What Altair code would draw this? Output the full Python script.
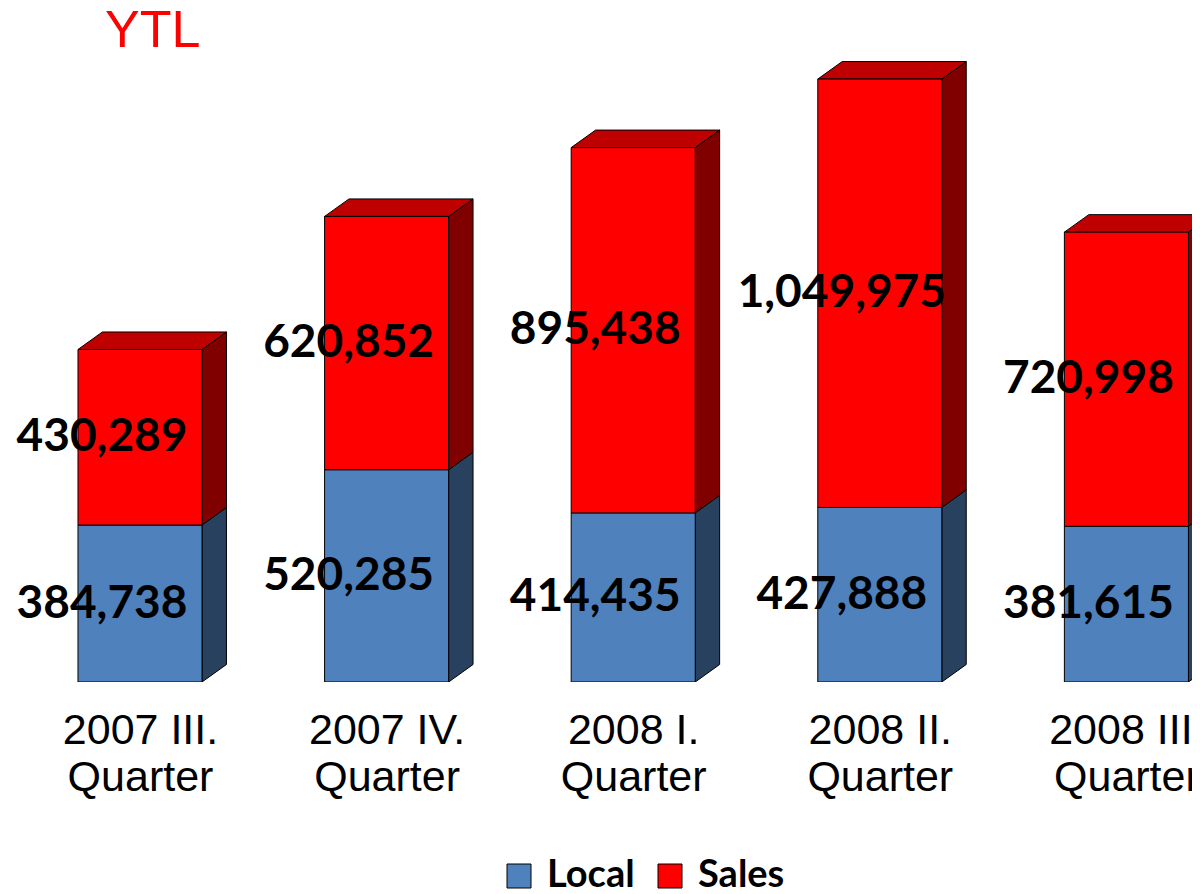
import json
import altair as alt
import pandas as pd

# ---- data ----
quarters = ["2007 III. Quarter", "2007 IV. Quarter", "2008 I. Quarter",
            "2008 II. Quarter", "2008 III. Quarter"]
local = [384738, 520285, 414435, 427888, 381615]
sales = [430289, 620852, 895438, 1049975, 720998]
series = ["Local", "Sales"]
title_text = ["YTL"]

# ---- style ----
FRONT = {"Local": "#4F81BD", "Sales": "#FF0000"}
SIDE = {"Local": "#28415F", "Sales": "#800000"}
TOP_RED = "#BF0000"
HALF = 0.2515      # half front-face width (category units)
DX = 0.099         # 3-D depth, x (category units)
DY = 42900         # 3-D depth, y (value units)

front_rows, side_rows, top_rows, label_rows = [], [], [], []
for i, (lv, sv) in enumerate(zip(local, sales)):
    for name, y0, y1 in [("Local", 0, lv), ("Sales", lv, lv + sv)]:
        front_rows.append(dict(i=i, series=name, xa=i - HALF, xb=i + HALF, y0=y0, y1=y1))
        face = f"{i}-{name}"
        side_rows.append(dict(face=face, series=name, x=i + HALF, lo=y0, hi=y1))
        side_rows.append(dict(face=face, series=name, x=i + HALF + DX, lo=y0 + DY, hi=y1 + DY))
        label_rows.append(dict(i=i, series=name, value=y1 - y0, mid=(y0 + y1) / 2))
    tot = lv + sv
    top_rows.append(dict(face=i, y=tot, xa=i - HALF, xb=i + HALF))
    top_rows.append(dict(face=i, y=tot + DY, xa=i - HALF + DX, xb=i + HALF + DX))

front_df = pd.DataFrame(front_rows)
side_df = pd.DataFrame(side_rows)
top_df = pd.DataFrame(top_rows)
label_df = pd.DataFrame(label_rows)
title_df = pd.DataFrame({"t": title_text})

xs = alt.Scale(domain=[-0.5353, 4.266], nice=False, zero=False)
ys = alt.Scale(domain=[0, 1652000], nice=False, zero=False)

label_lines = [q.rsplit(" ", 1)[0] + "|" + q.rsplit(" ", 1)[1] for q in quarters]
label_expr = "split(" + json.dumps(label_lines) + "[datum.value], '|')"

x_axis = alt.Axis(values=[0, 1, 2, 3, 4], labelExpr=label_expr, title=None,
                  domain=False, ticks=False, grid=False,
                  labelFont="Liberation Sans", labelFontSize=43,
                  labelColor="black", labelPadding=27, labelLineHeight=47,
                  labelOverlap=False, labelBound=False, labelFlush=False,
                  labelAlign="center", labelBaseline="top")

sides = []
for name in series:
    sides.append(
        alt.Chart(side_df).transform_filter(alt.datum.series == name)
        .mark_area(color=SIDE[name], stroke="black", strokeWidth=1, clip=True)
        .encode(x=alt.X("x:Q", scale=xs, axis=x_axis),
                y=alt.Y("lo:Q", scale=ys, axis=None),
                y2="hi:Q",
                detail="face:N")
    )

top = (alt.Chart(top_df)
       .mark_area(orient="horizontal", color=TOP_RED, stroke="black", strokeWidth=1, clip=True)
       .encode(y=alt.Y("y:Q", scale=ys, axis=None),
               x=alt.X("xa:Q", scale=xs, axis=x_axis),
               x2="xb:Q",
               detail="face:N"))

front = (alt.Chart(front_df)
         .mark_rect(stroke="black", strokeWidth=1, clip=True)
         .encode(
             x=alt.X("xa:Q", scale=xs, axis=x_axis),
             x2="xb:Q",
             y=alt.Y("y0:Q", scale=ys, axis=None),
             y2="y1:Q",
             color=alt.Color("series:N",
                             scale=alt.Scale(domain=series, range=[FRONT[s] for s in series]),
                             legend=alt.Legend(title=None, orient="none", direction="horizontal",
                                               legendX=492, legendY=849, padding=0,
                                               symbolType="square", symbolSize=576,
                                               symbolStrokeColor="black", symbolStrokeWidth=1,
                                               symbolOpacity=1,
                                               labelFont="Lato", labelFontWeight="bold",
                                               labelFontSize=38, labelColor="black",
                                               labelOffset=9, columnPadding=16))))

labels = (alt.Chart(label_df)
          .mark_text(font="Lato", fontWeight="bold", fontSize=46, dx=-38,
                     color="black", align="center", baseline="middle")
          .encode(x=alt.X("i:Q", scale=xs, axis=x_axis),
                  y=alt.Y("mid:Q", scale=ys, axis=None),
                  text=alt.Text("value:Q", format=",")))

title = (alt.Chart(title_df)
         .mark_text(font="Liberation Sans", fontSize=52, color="#FF0000",
                    align="left", baseline="alphabetic")
         .encode(x=alt.value(97), y=alt.value(39), text="t:N"))

chart = (alt.layer(*sides, top, front, labels, title)
         .properties(width=1184, height=674, autosize="none",
                     padding={"left": 0, "top": 0, "right": 0, "bottom": 212},
                     background="white")
         .configure_view(stroke=None))

chart.save("out.html", embed_options={"renderer": "svg", "actions": False})
